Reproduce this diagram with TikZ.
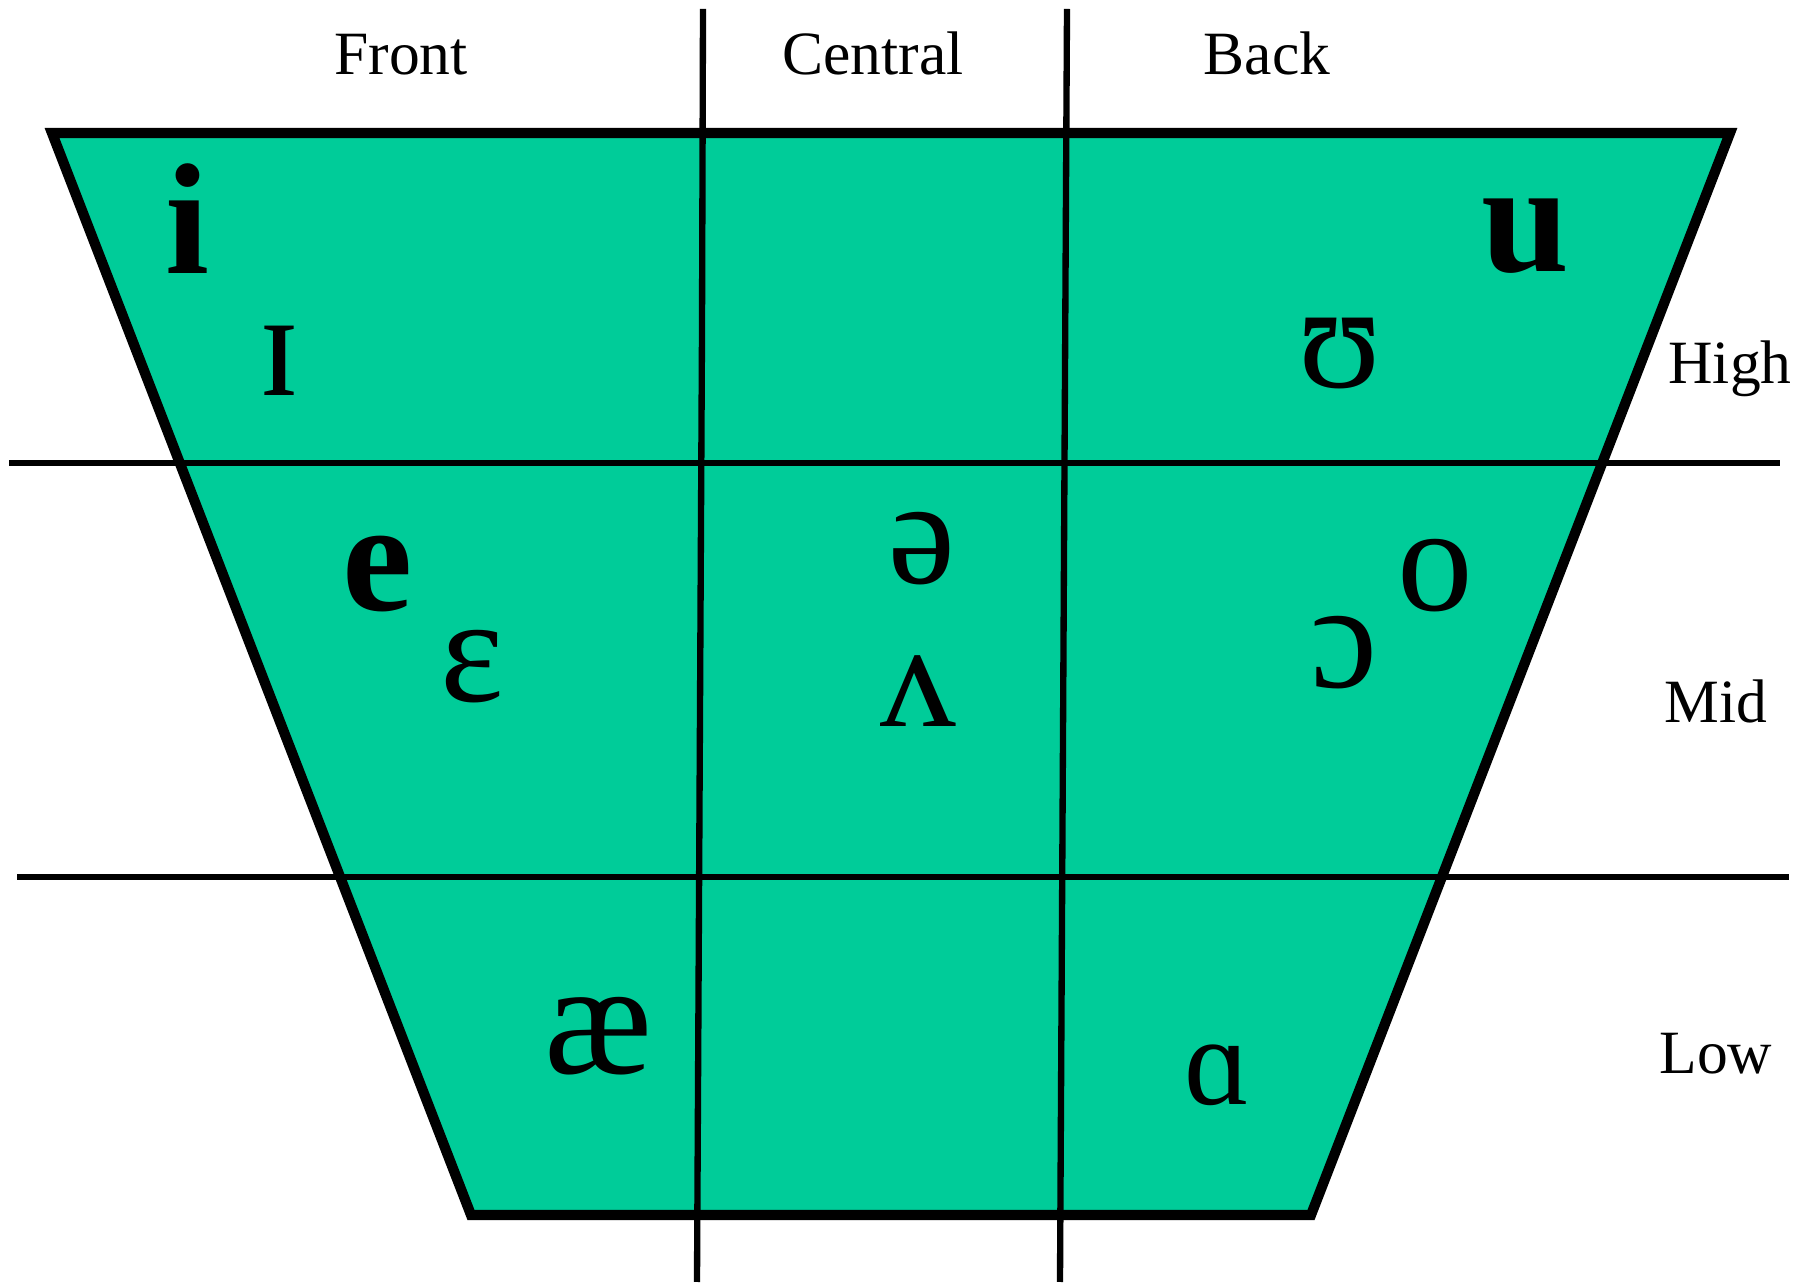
\documentclass[tikz,border=0pt]{standalone}
\usepackage{fontspec}
\setmainfont{Liberation Serif}
\usetikzlibrary{positioning}
\definecolor{chartgreen}{RGB}{0,204,153}
\tikzset{
  axislabel/.style={anchor=base, inner sep=0pt, font=\fontsize{17.5}{20}\selectfont},
  vowel/.style={anchor=base, inner sep=0pt, font=\fontsize{43}{48}\selectfont},
  strongvowel/.style={anchor=base, inner sep=0pt, font=\fontsize{45}{50}\selectfont\bfseries},
  gridline/.style={line width=1.8pt},
}

\begin{document}
\begin{tikzpicture}[x=0.01cm, y=-0.01cm]

            \useasboundingbox (0,0) rectangle (1814,1283);

            % Ecken des Vokaltrapezes
            \coordinate (TL) at (52,133);
            \coordinate (TR) at (1730,133);
            \coordinate (BR) at (1311,1215);
            \coordinate (BL) at (471,1215);

            % Flaeche
            \fill[chartgreen] (TL) -- (TR) -- (BR) -- (BL) -- cycle;

            % Endpunkte der Trennlinien
            \coordinate (highW) at (9,463);
            \coordinate (highE) at (1780,463);
            \coordinate (lowW) at (17,877);
            \coordinate (lowE) at (1789,877);
            \coordinate (frontN) at (703,9);
            \coordinate (frontM) at (702,330);
            \coordinate (frontS) at (697,1282);
            \coordinate (backN) at (1067,9);
            \coordinate (backS) at (1060,1282);

            % Trennlinien
            \draw[gridline] (highW) -- (highE);
            \draw[gridline] (lowW) -- (lowE);
            \draw[gridline] (frontN) -- (frontM) -- (frontS);
            \draw[gridline] (backN) -- (backS);

            % Rand des Trapezes
            \draw[line width=2.9pt] (TL) -- (TR) -- (BR) -- (BL) -- cycle;

            % Spalten und Zeilen
            \node[axislabel] (front) at (401,75) {Front};
            \node[axislabel] (central) at (873,75) {Central};
            \node[axislabel] (back) at (1267,75) {Back};
            \node[axislabel] (high) at (1730,384) {High};
            \node[axislabel] (mid) at (1716,723) {Mid};
            \node[axislabel] (low) at (1716,1074) {Low};

            % Vokale
            \node[strongvowel] (i) at (187,274) {i};
            \node[vowel] (ih) at (280,396) {ɪ};
            \node[strongvowel] (u) at (1525,272) {u};
            \node[vowel] (uh) at (1340,388) {ʊ};
            \node[strongvowel] (e) at (378,611) {e};
            \node[vowel] (eh) at (472,702) {ɛ};
            \node[vowel] (schwa) at (922,584) {ə};
            \node[vowel] (wedge) at (918,727) {ʌ};
            \node[vowel] (o) at (1435,611) {o};
            \node[vowel] (oh) at (1344,688) {ɔ};
            \node[vowel, font=\fontsize{46}{50}\selectfont] (ae) at (598,1074) {æ};
            \node[vowel, font=\fontsize{36}{40}\selectfont] (ah) at (1218,1105) {ɑ};

         \end{tikzpicture}
\end{document}
